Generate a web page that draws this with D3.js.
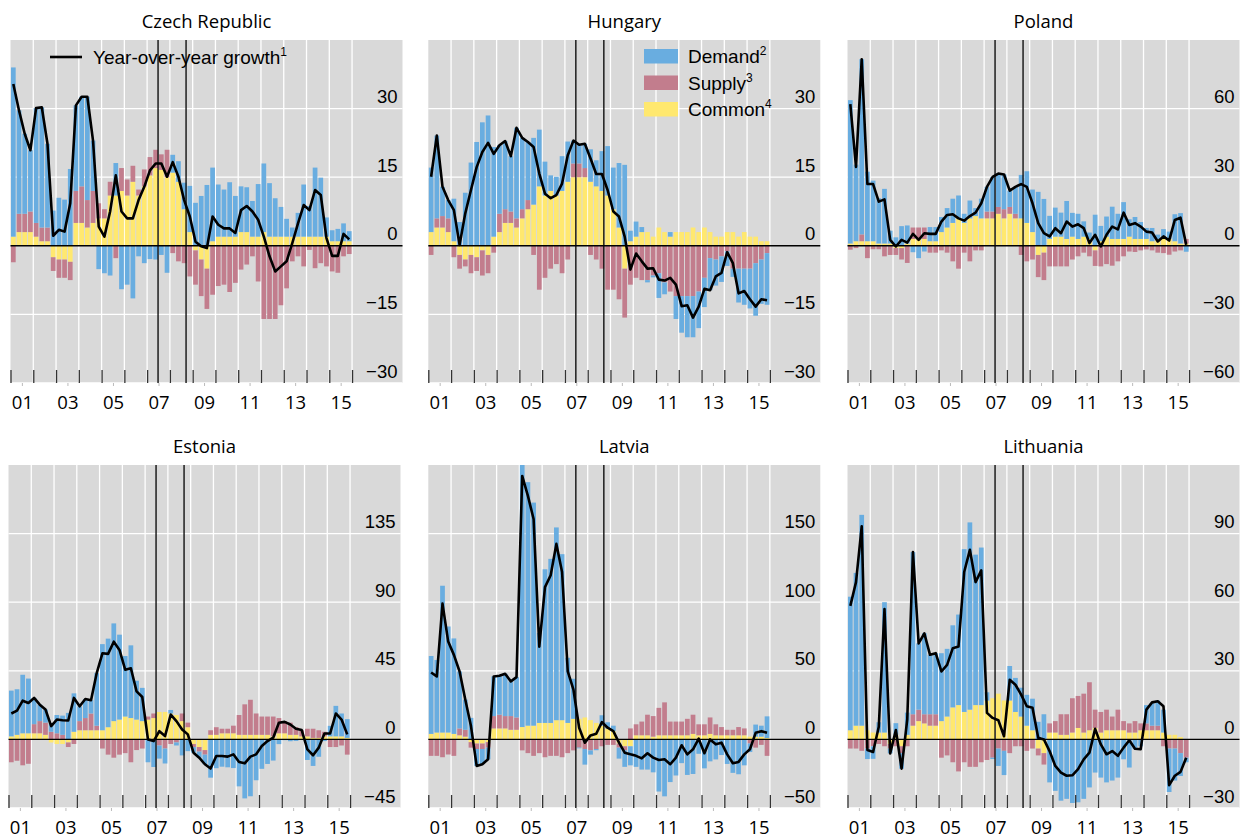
<!DOCTYPE html>
<html>
<head>
<meta charset="utf-8">
<script src="https://cdn.jsdelivr.net/npm/d3@7"></script>
<style>
  body { margin: 0; background: #fff; }
  svg { display: block; }
</style>
</head>
<body>
<svg id="chart" width="1242" height="839"></svg>
<script>
// Quarterly decomposition of year-over-year growth, 2001Q1–2015Q4
const years = [2001, 2002, 2003, 2004, 2005, 2006, 2007, 2008, 2009, 2010, 2011, 2012, 2013, 2014, 2015];
const quarters = years.flatMap(y => ["Q1", "Q2", "Q3", "Q4"].map(q => y + q));
const xTickLabels = ["01", "03", "05", "07", "09", "11", "13", "15"];
const eventDates = [2007.48, 2008.71];

// Czech Republic
const czGrowth = [35.4,29.6,24.5,20.9,30.1,30.3,22.3,2.2,3.5,3.1, 9.3,30.7,32.6,32.6,23,4.2,2,7.5,15.4,7.5, 6,6,10,12.9,16.5,18,18,15.1,18.3,15.1, 10,6.4,0.9,-0.1,-0.5,6.4,4.6,3.8,3.8,2.8, 7.8,8.7,7.5,5.7,2,-2.3,-5.6,-4.5,-3.4,0.6, 4.9,8.9,7.8,12.2,11.1,1.7,-2.2,-2.2,2.6,1.4];
const czDemand = [37,22.6,17.5,13.4,25.1,26.3,18.3,7.7,10.5,10.1, 16.8,18.7,19.6,22.6,11,-5.1,-6,-6.5,7.1,-9.5, -8.5,-11.5,-2.3,-3.8,-2.9,-3,-2,-5.9,3.9,4.5, 5.8,10.1,9.4,10.9,13.3,16.1,11.4,10.3,11.9,8.9, 10,9.8,7.8,11.5,15,11.7,8.4,6.5,3.9,2, 5.2,11.4,6.7,15.1,12.9,4.2,2.4,2.7,3.9,2.2];
const czSupply = [-3.6,4,4,4.5,3,3,3,-3,-4,-4, -4,7,8,6,7,3.3,2,3,-2.7,5, 3.5,3.5,1.3,3.7,4,4,3.4,6,-1.6,-3.4, -3.8,-6.7,-7.5,-8,-8.8,-10.7,-8.8,-8.5,-10.1,-8.1, -5.2,-4.1,-2.3,-7.8,-16,-16,-16,-13,-9.3,-3.4, -2.3,-4.5,-0.9,-4.9,-3.8,-4.5,-5.6,-5.9,-2.3,-1.8];
const czCommon = [2,3,3,3,2,1,1,-2.5,-3,-3, -3.5,5,5,4,5,6,6,11,11,12, 11,14,11,13,15.4,17,16.6,15,16,14, 8,3,-1,-3,-5,1,2,2,2,2, 3,3,2,2,3,2,2,2,2,2, 2,2,2,2,2,2,1,1,1,1];

// Hungary
const huGrowth = [15.1,24.1,12.9,10,7.8,0.2,7.1,12.2,17.2,20.5, 22.5,20.1,22,22.9,19.6,25.8,23.6,22.7,21.6,15.8, 11.4,10.4,11.1,13.6,19.8,23,22.1,22.3,19.1,15.7, 15.7,12.2,7.5,6.4,2,-5.2,-1.7,-3.4,-5,-4.9, -7.4,-7.6,-7,-8.5,-13.2,-13,-15.7,-13.3,-9.4,-9.7, -6.7,-5.9,-1.4,-3.8,-10.4,-9.9,-11.7,-13.3,-11.7,-11.9];
const huDemand = [14.1,18.1,6.4,4,9.3,5.2,11.6,18.2,22.7,27, 28.5,19.6,15,14.9,12.1,19.8,15.6,12.7,14.6,12.4, 7.4,3.4,4.1,7.6,8.8,5,4.1,5.3,7.1,5.7, 8.7,10.8,9.1,14.1,17.7,2.3,3.3,1.1,-0.5,-0.4, -5.4,-2.6,1,-5,-8,-9,-9,-8,-6.4,-7, -5.7,-5.6,-3.2,-1.8,-7.4,-7.9,-8.7,-11.5,-9.7,-11.3];
const huSupply = [-2,2,2.5,3,-2.5,-3,-1.5,-4,-3,-5.5, -4,-1.5,4,3,2.5,2,2,2,-2,-9.6, -7,-5,-4,-6,-3,3,3,2,-2,-3, -5,-9.6,-9.6,-11.7,-10.7,-8.5,-7,-7.5,-7.5,-6.5, -6,-8,-10,-11,-11,-11,-11,-10,-7,-2.7, -3,-2.3,-1.2,-5,-5,-5,-5,-3.8,-3,-1.6];
const huCommon = [3,4,4,3,1,-2,-3,-2,-2.5,-1, -2,2,3,5,5,4,6,8,9,13, 11,12,11,12,14,15,15,15,14,13, 12,11,8,4,-5,1,2,3,3,2, 4,3,2,3,3,3,4,3,4,3, 2,2,3,3,2,3,2,2,1,1];

// Poland
const plGrowth = [62,34.5,81.6,27,27,19.3,20.3,2.6,-0.3,2.6, 1.4,5.2,2.6,5.5,5.2,5.2,10.6,13.5,13.8,12, 11,13,14.5,18.6,25.8,30.1,31.6,31.2,24.1,25.8, 27,25.8,18.6,9.9,5.5,4.1,7.7,5.5,10.6,8.4, 9.4,7.7,1.2,4.8,-0.3,4.8,8.4,7.2,14.5,9.1, 9.9,8.4,6.2,5.8,1.9,4.1,2.3,11.3,12.3,0.4];
const plDemand = [62.7,33.5,76.6,30.4,26.5,19.8,23.9,5.6,3.7,8.6, 7.9,-2.8,-5.4,-2.5,6.2,6.2,6.6,8.5,10.6,10, 4,7.8,3.5,8.6,10.8,15.1,14.6,15.2,7.1,11.8, 19,22.6,18.6,23.6,20.5,10.1,12.7,10.5,16.6,10.4, 11,6.7,2.8,13.6,6.7,8.8,14.1,11,16.1,7.6, 9.6,7.4,4.8,5.8,1.9,4.3,3.2,11.8,13.3,-2.6];
const plSupply = [-1.7,-1,3,-5.4,-1.5,-1.5,-4.6,-4,-3,-5, -7.5,5,5,5,-3,-3,-2,-3,-6.8,-10, -3,-6.8,-2,-2,3,3,3,4,3,2, -4,-6.8,-6,-9.7,-12,-9,-9,-9,-9,-6, -4.6,-3,-4.6,-6.8,-9,-8,-8.7,-6.8,-4.6,-2.5, -2.7,-2,-1.6,-2,-3,-3.2,-3.9,-2.5,-2,2];
const plCommon = [1,2,2,2,2,1,1,1,-1,-1, 1,3,3,3,2,2,6,8,10,12, 10,12,13,12,12,12,14,12,14,12, 12,10,6,-4,-3,3,4,4,3,4, 3,4,3,-2,2,4,3,3,3,4, 3,3,3,2,3,3,3,2,1,1];

// Estonia
const eeGrowth = [17,18.9,25.4,23.9,27.2,22.8,19.6,8.7,13,12.6, 12.4,27.2,21.7,26.5,25.7,43.5,56.5,56.1,64.1,58.7, 45.7,46.7,31.5,27.8,0,-1.1,5.4,2.2,16.3,12, 6.5,3.3,-8.7,-12,-16.3,-19.1,-10.9,-10.9,-11.3,-9.8, -14.8,-15.7,-11.3,-9.8,-4.3,-1.1,1.1,10.9,11.5,9.8, 7,6.1,-6.5,-10.4,-5.4,3.9,3.9,17,13,3.3];
const eeDemand = [30,29.9,38.4,35.9,17.2,10.8,8.6,5.7,12,12.6, 17.4,25.2,9.7,12.5,8.7,34.5,56.5,58.1,64.1,55.7, 39.7,47.7,25.5,21.8,-15,-18.1,-8.6,-9.8,2.3,-2, -10.5,-7.7,-3.7,-4,-6.3,-25.1,-18.9,-17.9,-18.3,-18.8, -30.8,-38.7,-37.3,-26.8,-19.3,-16.1,-13.9,-3.1,-0.5,-1.2, -1,0.1,-13.5,-17.4,-11.4,-1.1,6.9,20,15,12.3];
const eeSupply = [-15,-14,-17,-16,6,8,8,5,4,3, -3,-3,6,8,11,3,-6,-10,-12,-10, -9,-15,-7,-6,2,3,-4,-6,-3,-2, 5,3,-2,-3,-3,3,5,3,3,5, 13,20,23,14,12,12,13,10,8,8, 5,4,5,6,5,3,-5,-5,-4,-10];
const eeCommon = [2,3,4,4,4,4,3,-2,-3,-3, -2,5,6,6,6,6,6,8,12,13, 15,14,13,12,13,14,18,18,17,16, 12,8,-3,-5,-7,3,3,4,4,4, 3,3,3,3,3,3,2,4,4,3, 3,2,2,1,1,2,2,2,2,1];

// Latvia
const lvGrowth = [48.8,45.9,99,71.3,61.6,49.5,29,9.7,-19.3,-18.1, -14.5,45.9,46.4,47.8,42.3,45.4,192,177.5,160.6,67.6, 111,119.6,142.5,122,49.5,36.2,8.5,-2.4,2.9,4.1, 12.6,8.5,6,-2.4,-9.7,-10.9,-12,-13.8,-10.1,-13.3, -15,-14.5,-18.1,-13.3,-4.3,-10.9,-7.2,0.5,-10.1,0, -3.6,-2.4,-10.9,-17.4,-16.4,-10.9,-7.2,4.8,6,4.8];
const lvDemand = [56.8,52.9,107,77.3,69.6,41.5,22,15.7,-12.3,-11.1, -8.5,28.9,28.4,30.8,25.3,29.4,191,177.5,162.6,65.6, 112,119.6,140.5,121,47.5,29.2,-0.5,-11.4,-3.1,-0.9, 7.6,4.5,4,-8,-12,-13.9,-20,-22,-22,-24, -38,-41.5,-31.1,-26.3,-17.3,-25.9,-25.2,-10.5,-21.1,-16, -14.6,-11.4,-17.9,-24.4,-25.4,-18.9,-6.2,8.8,8,15.8];
const lvSupply = [-12,-12,-13,-11,-12,5,5,-4,-4,-4, -4,9,10,9,10,9,-8,-10,-12,-10, -13,-12,-12,-13,-10,-8,-6,-7,-8,-7, -5,-4,-4,-3,-3,8,8,10,15,15, 20,24,10,10,10,12,14,8,8,12, 8,6,4,4,6,5,-3,-6,-4,-12];
const lvCommon = [4,5,5,5,4,3,2,-2,-3,-3, -2,8,8,8,7,7,9,10,10,12, 12,12,14,14,12,15,15,16,14,12, 10,8,6,-3,-5,-5,3,3,3,2, 3,3,3,3,3,3,4,3,3,4, 3,3,3,3,3,3,2,2,2,1];

// Lithuania
const ltGrowth = [58.4,68.8,93.2,-4.6,-5.5,5.5,57,-6.1,4.1,-12.8, 8.7,81.9,42,46.4,37,37.7,29.7,32.6,39.9,40.6, 73.2,82.9,68.8,73.9,11.6,9.4,8.4,1.4,26.1,23.9, 19.6,14.5,13.8,0.7,0,-5.1,-11.6,-14.5,-15.9,-15.7, -13,-8.7,-5.8,4.6,-2.2,-6.5,-5.1,-7.2,-3.6,-0.4, -4.1,-4.3,13,16.2,16.7,14.5,-20,-15.9,-14.2,-8];
const ltDemand = [58.4,66.8,92.2,-4.6,-5.5,4.5,57,-2.1,5.1,-6.8, 9.7,70.9,29,35.4,26,26.7,29.7,29.6,35.9,39.6, 71.2,81.9,65.8,68.9,3.6,-0.6,-7.6,-10.6,15.1,14.9, 12.6,13.5,13.8,7.7,11,-18.8,-22.5,-26.8,-26,-27.8, -27.5,-26,-21,-14.5,-16.7,-18.8,-18,-16.7,-8.7,-12.3, -4.3,-3,8,10,11,10,-19,-14,-10,-2];
const ltSupply = [-4,-4,-5,-4,-3,-2,-3,-2,-3,-3, -3,5,5,4,5,5,-8,-7,-10,-14, -10,-12,-12,-10,-9,-8,-4,-5,-6,-3, -3,-5,-4,-3,-5,4,5,9,9,15, 14,17,21,8,9,9,6,9,4,4, 5,3,3,2,2,-3,-4,-4,-6,-8];
const ltCommon = [4,6,6,4,3,3,3,-2,2,-3, 2,6,8,7,6,6,8,10,14,15, 12,13,15,15,17,18,20,17,17,12, 10,6,4,-4,-6,3,3,2,2,3, 5,3,4,5,3,4,4,4,4,3, 3,4,4,4,4,3,2,2,1,0];

// Right-hand axis ticks per panel
const czTicks = [-30, -15, 0, 15, 30];
const huTicks = [-30, -15, 0, 15, 30];
const plTicks = [-60, -30, 0, 30, 60];
const eeTicks = [-45, 0, 45, 90, 135];
const lvTicks = [-50, 0, 50, 100, 150];
const ltTicks = [-30, 0, 30, 60, 90];

const colors = { demand: "#69ade0", supply: "#c27d8d", common: "#ffe86f" };
const keys = ["common", "supply", "demand"];

const plotW = 392, plotH = 343, yearPx = 22.77;
const panels = [
  { title: "Czech Republic", left: 10.5, top: 40, domain: [-30, 45], ticks: czTicks, growth: czGrowth, demand: czDemand, supply: czSupply, common: czCommon },
  { title: "Hungary", left: 428.3, top: 40, domain: [-30, 45], ticks: huTicks, growth: huGrowth, demand: huDemand, supply: huSupply, common: huCommon },
  { title: "Poland", left: 847.5, top: 40, domain: [-60, 90], ticks: plTicks, growth: plGrowth, demand: plDemand, supply: plSupply, common: plCommon },
  { title: "Estonia", left: 8.5, top: 465, domain: [-45, 180], ticks: eeTicks, growth: eeGrowth, demand: eeDemand, supply: eeSupply, common: eeCommon },
  { title: "Latvia", left: 428.3, top: 465, domain: [-50, 200], ticks: lvTicks, growth: lvGrowth, demand: lvDemand, supply: lvSupply, common: lvCommon },
  { title: "Lithuania", left: 847.5, top: 465, domain: [-30, 120], ticks: ltTicks, growth: ltGrowth, demand: ltDemand, supply: ltSupply, common: ltCommon }
];

const svg = d3.select("#chart");
const fmt = v => (v < 0 ? "\u2212" + Math.abs(v) : String(v));

panels.forEach((p, pi) => {
  const x = d3.scaleLinear().domain([2001, 2001 + plotW / yearPx]).range([p.left, p.left + plotW]);
  const band = d3.scaleBand().domain(quarters).range([x(2001), x(2016)]).paddingInner(0.17).paddingOuter(0.08);
  const y = d3.scaleLinear().domain(p.domain).range([p.top + plotH, p.top]);
  const g = svg.append("g");

  const clipId = "clip" + pi;
  svg.append("clipPath").attr("id", clipId)
    .append("rect").attr("x", p.left).attr("y", p.top).attr("width", plotW).attr("height", plotH);

  // background
  g.append("rect").attr("x", p.left).attr("y", p.top).attr("width", plotW).attr("height", plotH).attr("fill", "#d9d9d9");

  // vertical year gridlines
  g.append("g").selectAll("line").data(d3.range(2002, 2017)).join("line")
    .attr("x1", d => x(d)).attr("x2", d => x(d))
    .attr("y1", p.top).attr("y2", p.top + plotH)
    .attr("stroke", "#fff").attr("stroke-width", 1.3);

  // horizontal gridlines
  g.append("g").selectAll("line").data(p.ticks.filter(t => t !== 0)).join("line")
    .attr("x1", p.left).attr("x2", p.left + plotW)
    .attr("y1", d => y(d)).attr("y2", d => y(d))
    .attr("stroke", "#fff").attr("stroke-width", 1.3);

  // stacked contributions
  const rows = quarters.map((q, i) => ({ q, common: p.common[i], supply: p.supply[i], demand: p.demand[i] }));
  const series = d3.stack().keys(keys).offset(d3.stackOffsetDiverging)(rows);
  const bars = g.append("g").attr("clip-path", `url(#${clipId})`);
  series.forEach(s => {
    bars.append("g").attr("fill", colors[s.key]).selectAll("rect").data(s).join("rect")
      .attr("x", d => band(d.data.q))
      .attr("width", band.bandwidth())
      .attr("y", d => y(Math.max(d[0], d[1])))
      .attr("height", d => Math.abs(y(d[0]) - y(d[1])));
  });

  // zero line
  g.append("line").attr("x1", p.left).attr("x2", p.left + plotW)
    .attr("y1", y(0)).attr("y2", y(0)).attr("stroke", "#000").attr("stroke-width", 1.4);

  // event markers
  g.append("g").selectAll("line").data(eventDates).join("line")
    .attr("x1", d => x(d)).attr("x2", d => x(d))
    .attr("y1", p.top).attr("y2", p.top + plotH)
    .attr("stroke", "#000").attr("stroke-width", 1.3);

  // growth line
  const line = d3.line()
    .x((d, i) => band(quarters[i]) + band.bandwidth() / 2)
    .y(d => y(d));
  g.append("path").datum(p.growth).attr("d", line)
    .attr("clip-path", `url(#${clipId})`)
    .attr("fill", "none").attr("stroke", "#000").attr("stroke-width", 2.6).attr("stroke-linejoin", "round");

  // inner year ticks along the bottom
  const tickAxis = d3.axisBottom(x).tickValues(d3.range(2001, 2017)).tickSize(-13).tickFormat("");
  const ta = g.append("g").attr("transform", `translate(0,${p.top + plotH})`).call(tickAxis);
  ta.select(".domain").remove();
  ta.selectAll("line").attr("stroke", "#333").attr("stroke-width", 1.3);

  // year labels beneath
  const labelAxis = d3.axisBottom(x)
    .tickValues(xTickLabels.map(l => 2000 + (+l) + 0.5))
    .tickSize(3).tickPadding(8)
    .tickFormat(d => xTickLabels[Math.round((d - 2001.5) / 2)]);
  const la = g.append("g").attr("transform", `translate(0,${p.top + plotH})`).call(labelAxis);
  la.select(".domain").remove();
  la.selectAll("line").attr("stroke", "#bbb");
  la.selectAll("text").attr("fill", "#000").attr("font-family", "'Open Sans', 'Noto Sans', sans-serif")
    .attr("font-size", 18.5).attr("dy", null).attr("y", 26);

  // right-hand value labels, sitting above their gridlines
  g.append("g").selectAll("text").data(p.ticks).join("text")
    .attr("x", p.left + plotW - 5).attr("y", d => y(d) - 5.5)
    .attr("text-anchor", "end")
    .attr("font-family", "'Liberation Sans', Arial, sans-serif").attr("font-size", 18.5).attr("fill", "#000")
    .text(d => fmt(d));

  // title
  g.append("text").attr("x", p.left + plotW / 2).attr("y", p.top - 12)
    .attr("text-anchor", "middle")
    .attr("font-family", "'Open Sans', 'Noto Sans', sans-serif").attr("font-size", 18.5).attr("fill", "#000")
    .text(p.title);
});

// Legend: growth line (Czech Republic panel)
const lg1 = svg.append("g").attr("font-family", "'Liberation Sans', Arial, sans-serif").attr("font-size", 19);
lg1.append("line").attr("x1", 50).attr("x2", 82).attr("y1", 57).attr("y2", 57).attr("stroke", "#000").attr("stroke-width", 2.6);
const t1 = lg1.append("text").attr("x", 93).attr("y", 64);
t1.append("tspan").text("Year-over-year growth");
t1.append("tspan").attr("font-size", 12).attr("dy", -8).text("1");

// Legend: contributions (Hungary panel)
const legendItems = [
  { key: "demand", label: "Demand", note: "2" },
  { key: "supply", label: "Supply", note: "3" },
  { key: "common", label: "Common", note: "4" }
];
const lg2 = svg.append("g").attr("font-family", "'Liberation Sans', Arial, sans-serif").attr("font-size", 19);
const item = lg2.selectAll("g").data(legendItems).join("g")
  .attr("transform", (d, i) => `translate(644,${49 + i * 26.5})`);
item.append("rect").attr("width", 34).attr("height", 14.5).attr("fill", d => colors[d.key]);
const it = item.append("text").attr("x", 44).attr("y", 14);
it.append("tspan").text(d => d.label);
it.append("tspan").attr("font-size", 12).attr("dy", -8).text(d => d.note);
</script>
</body>
</html>
